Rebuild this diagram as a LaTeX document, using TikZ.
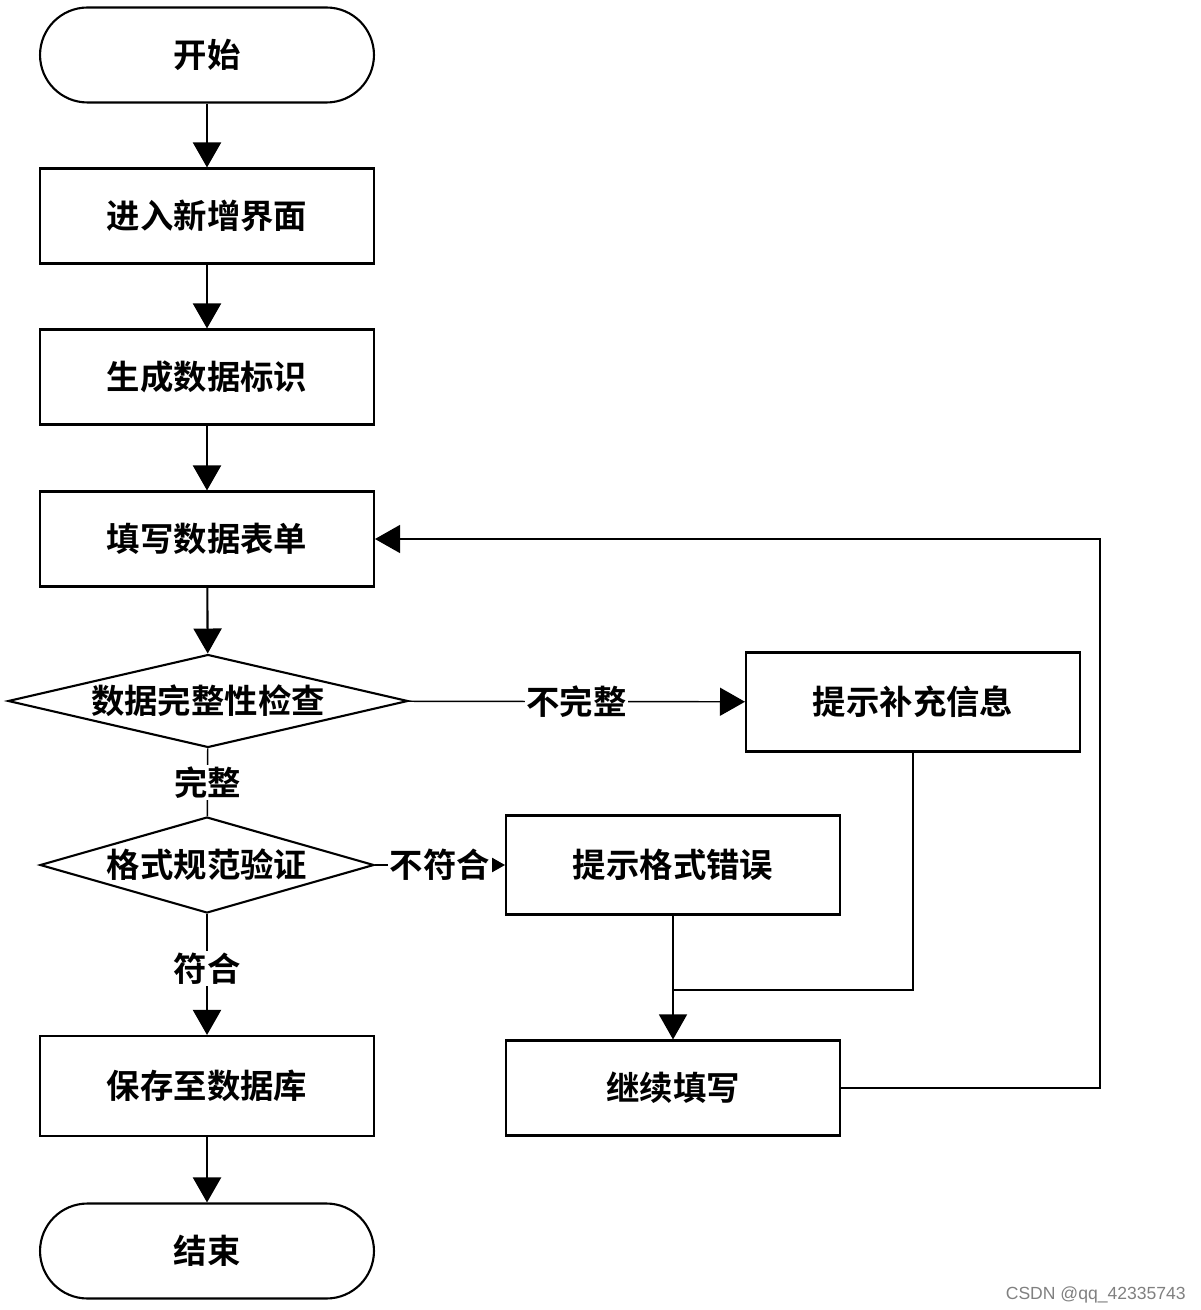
\documentclass[tikz,border=0pt]{standalone}
\usepackage{fontspec}
\setmainfont{Noto Sans CJK SC Bold}
\newfontfamily\markfont{Liberation Sans}
\usetikzlibrary{shapes.geometric,arrows.meta,positioning}
\tikzset{
  stepbox/.style={draw,line width=1.2pt,minimum width=6.68cm,minimum height=1.9cm,inner sep=0pt},
  termbox/.style={stepbox,rounded corners=0.95cm},
  testbox/.style={draw,line width=1.2pt,shape=diamond,inner sep=0pt},
  flow/.style={line width=1.2pt,-{Triangle[width=5.6mm,length=5mm]}},
  back/.style={line width=0.8pt},
  lab/.style={fill=white,inner sep=1pt}
}
\begin{document}
\begin{tikzpicture}[x=0.02cm,y=-0.02cm,font=\fontsize{19pt}{22pt}\selectfont]
\useasboundingbox (0,0) rectangle (1200,1310);
% main column
\node[termbox] (start) at (207,55) {开始};
\node[stepbox] (enter) at (207,216) {进入新增界面};
\node[stepbox] (ident) at (207,377) {生成数据标识};
\node[stepbox] (fill) at (207,539) {填写数据表单};
\node[testbox,minimum width=8cm,minimum height=1.86cm] (check) at (208,701) {\makebox[0pt]{数据完整性检查}};
\node[testbox,minimum width=6.68cm,minimum height=1.92cm] (valid) at (207,865) {\makebox[0pt]{格式规范验证}};
\node[stepbox,minimum height=2cm] (save) at (207,1086) {保存至数据库};
\node[termbox] (stop) at (207,1251) {结束};
% right side
\node[stepbox,minimum height=1.98cm] (hintA) at (913,702) {提示补充信息};
\node[stepbox,minimum height=1.98cm] (hintB) at (673,865) {提示格式错误};
\node[stepbox] (again) at (673,1088) {继续填写};
\coordinate (join) at (673,990);
\coordinate (loop) at (1100,1088);
% connectors
\draw[flow] (start) -- (enter);
\draw[flow] (enter) -- (ident);
\draw[flow] (ident) -- (fill);
\draw[flow] (fill) -- (check);
\draw[back] (check) -- node[lab,pos=0.5,font=\fontsize{19pt}{22pt}\selectfont] (lblA) {完整} (valid);
\draw[flow] (valid) -- node[lab,pos=0.45] (lblB) {符合} (save);
\draw[flow] (save) -- (stop);
\draw[flow,line width=0.8pt] (check) -- node[lab,pos=0.5] (lblC) {不完整} (hintA);
\draw[flow,line width=0.8pt] (valid) -- node[lab,pos=0.5] (lblD) {不符合} (hintB);
\draw[back] (hintA.south) |- (join);
\draw[flow,line width=0.8pt] (hintB) -- (again);
\draw[flow,line width=0.8pt] (again.east) -- (loop) |- (fill.east);
\node[font=\markfont\fontsize{10pt}{12pt}\selectfont,text=gray,anchor=east] (mark) at (1192,1295) {CSDN @qq\_42335743};
\end{tikzpicture}
\end{document}
